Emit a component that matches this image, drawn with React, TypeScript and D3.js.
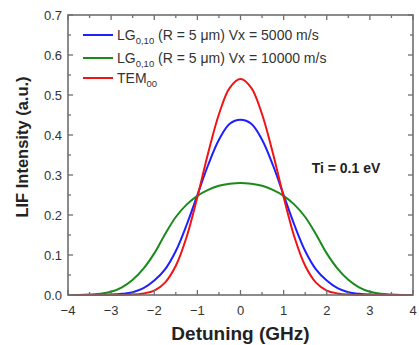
import React, { useEffect, useRef } from 'react';
import * as d3 from 'd3';

// detuning samples (GHz)
const detuning = [
  -4, -3.75, -3.5, -3.25, -3, -2.75, -2.5, -2.25, -2, -1.75, -1.5, -1.25, -1, -0.75, -0.5, -0.25,
  0, 0.25, 0.5, 0.75, 1, 1.25, 1.5, 1.75, 2, 2.25, 2.5, 2.75, 3, 3.25, 3.5, 3.75, 4,
];

// LG0,10 Vx = 5000 m/s
const lg5000 = [
  0, 0, 0, 0, 0.001, 0.003, 0.007, 0.017, 0.036, 0.064, 0.11, 0.175, 0.25, 0.325, 0.388, 0.428,
  0.438, 0.428, 0.388, 0.325, 0.25, 0.175, 0.11, 0.064, 0.036, 0.017, 0.007, 0.003, 0.001, 0, 0, 0, 0,
];

// LG0,10 Vx = 10000 m/s
const lg10000 = [
  0, 0, 0.001, 0.003, 0.008, 0.019, 0.038, 0.066, 0.104, 0.152, 0.195, 0.226, 0.248, 0.263, 0.273, 0.278,
  0.28, 0.278, 0.273, 0.263, 0.248, 0.226, 0.195, 0.152, 0.104, 0.066, 0.038, 0.019, 0.008, 0.003, 0.001, 0, 0,
];

// TEM00
const tem00 = [
  0, 0, 0, 0, 0, 0, 0.001, 0.004, 0.011, 0.031, 0.073, 0.145, 0.245, 0.355, 0.452, 0.518,
  0.54, 0.518, 0.452, 0.355, 0.245, 0.145, 0.073, 0.031, 0.011, 0.004, 0.001, 0, 0, 0, 0, 0, 0,
];

const xTicks = [-4, -3, -2, -1, 0, 1, 2, 3, 4];
const yTicks = [0, 0.1, 0.2, 0.3, 0.4, 0.5, 0.6, 0.7];

const series = [
  { name: 'LG', sub: '0,10', rest: ' (R = 5 \u03bcm) Vx = 5000 m/s', values: lg5000, color: '#1f1fff' },
  { name: 'LG', sub: '0,10', rest: ' (R = 5 \u03bcm) Vx = 10000 m/s', values: lg10000, color: '#1a8a1a' },
  { name: 'TEM', sub: '00', rest: '', values: tem00, color: '#f01414' },
];

const FONT = '"Liberation Sans", Arial, Helvetica, sans-serif';

const App: React.FC = () => {
  const ref = useRef<SVGSVGElement | null>(null);

  useEffect(() => {
    const width = 419;
    const height = 345;
    const margin = { top: 15, right: 6, bottom: 50, left: 68 };
    const w = width - margin.left - margin.right;
    const h = height - margin.top - margin.bottom;

    const root = d3.select(ref.current);
    root.selectAll('*').remove();
    const svg = root.append('g').attr('transform', `translate(${margin.left},${margin.top})`);

    const x = d3.scaleLinear().domain([-4, 4]).range([0, w]);
    const y = d3.scaleLinear().domain([0, 0.7]).range([h, 0]);

    const axisColor = '#6e6e6e';
    const textColor = '#333';

    // curves
    series.forEach(s => {
      const pts = detuning.map((d, i) => [d, s.values[i]] as [number, number]);
      svg.append('path')
        .datum(pts)
        .attr('fill', 'none')
        .attr('stroke', s.color)
        .attr('stroke-width', 2)
        .attr('d', d3.line<[number, number]>()
          .x(d => x(d[0]))
          .y(d => Math.min(y(d[1]), h))
          .curve(d3.curveCatmullRom.alpha(0.5)));
    });

    // inner ticks on all four sides
    const minorX = d3.range(-4, 4.01, 0.5);
    const minorY = d3.range(0, 0.701, 0.05);
    const isMajorX = (v: number) => Math.abs(v - Math.round(v)) < 1e-6;
    const isMajorY = (v: number) => Math.abs(v * 10 - Math.round(v * 10)) < 1e-6;

    const ticks = svg.append('g').attr('stroke', axisColor).attr('stroke-width', 1.3);
    minorX.forEach(v => {
      const len = isMajorX(v) ? 5 : 3;
      ticks.append('line').attr('x1', x(v)).attr('x2', x(v)).attr('y1', h).attr('y2', h - len);
      ticks.append('line').attr('x1', x(v)).attr('x2', x(v)).attr('y1', 0).attr('y2', len);
    });
    minorY.forEach(v => {
      const len = isMajorY(v) ? 5 : 3;
      ticks.append('line').attr('x1', 0).attr('x2', len).attr('y1', y(v)).attr('y2', y(v));
      ticks.append('line').attr('x1', w).attr('x2', w - len).attr('y1', y(v)).attr('y2', y(v));
    });

    // frame
    svg.append('rect')
      .attr('x', 0).attr('y', 0).attr('width', w).attr('height', h)
      .attr('fill', 'none').attr('stroke', axisColor).attr('stroke-width', 1.6);

    // tick labels
    svg.append('g').selectAll('text').data(xTicks).join('text')
      .attr('x', d => x(d))
      .attr('y', h + 20)
      .attr('text-anchor', 'middle')
      .attr('font-family', FONT)
      .attr('font-size', 13)
      .attr('fill', textColor)
      .text(d => (d < 0 ? '\u2212' + Math.abs(d) : String(d)));

    svg.append('g').selectAll('text').data(yTicks).join('text')
      .attr('x', -6)
      .attr('y', d => y(d) + 4.5)
      .attr('text-anchor', 'end')
      .attr('font-family', FONT)
      .attr('font-size', 13)
      .attr('fill', textColor)
      .text(d => d.toFixed(1));

    // axis titles
    svg.append('text')
      .attr('x', w / 2)
      .attr('y', h + 45)
      .attr('text-anchor', 'middle')
      .attr('font-family', FONT)
      .attr('font-size', 19)
      .attr('font-weight', 'bold')
      .attr('fill', '#222')
      .text('Detuning (GHz)');

    svg.append('text')
      .attr('transform', `translate(${-40},${132}) rotate(-90)`)
      .attr('text-anchor', 'middle')
      .attr('font-family', FONT)
      .attr('font-size', 16.5)
      .attr('font-weight', 'bold')
      .attr('fill', '#222')
      .text('LIF Intensity (a.u.)');

    // legend
    const legend = svg.append('g').attr('transform', 'translate(15,20)');
    const rowY = [0, 23, 43];
    series.forEach((s, i) => {
      const g = legend.append('g').attr('transform', `translate(0,${rowY[i]})`);
      g.append('line').attr('x1', 0).attr('x2', 30).attr('y1', 0).attr('y2', 0)
        .attr('stroke', s.color).attr('stroke-width', 2);
      const t = g.append('text')
        .attr('x', 34)
        .attr('y', 5)
        .attr('font-family', FONT)
        .attr('font-size', 14)
        .attr('fill', textColor);
      t.append('tspan').text(s.name);
      t.append('tspan').attr('dy', 4).attr('font-size', 9.5).text(s.sub);
      if (s.rest) t.append('tspan').attr('dy', -4).text(s.rest);
    });

    // annotation
    svg.append('text')
      .attr('x', x(1.65))
      .attr('y', y(0.3) - 2)
      .attr('font-family', FONT)
      .attr('font-size', 14)
      .attr('font-weight', 'bold')
      .attr('fill', '#222')
      .text('Ti = 0.1 eV');
  }, []);

  return (
    <div style={{ position: 'absolute', left: 0, top: 0 }}>
      <svg ref={ref} width={419} height={345} style={{ display: 'block', background: '#fff' }}></svg>
    </div>
  );
};

export default App;
